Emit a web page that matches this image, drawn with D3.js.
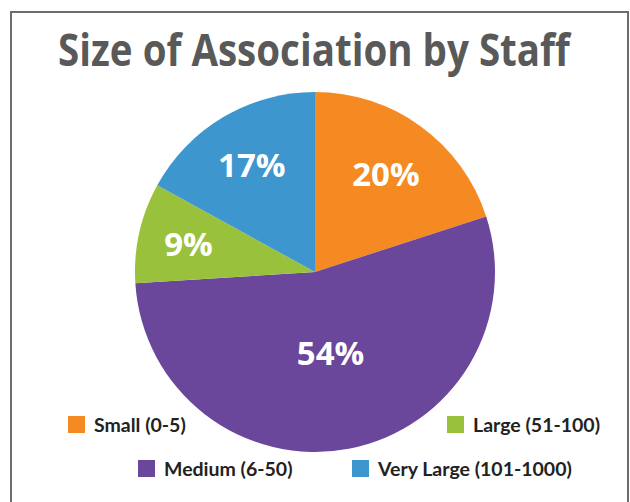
<!DOCTYPE html>
<html>
<head>
<meta charset="utf-8">
<script src="https://cdn.jsdelivr.net/npm/d3@7"></script>
<style>
  body { margin: 0; background: #fff; }
  svg { display: block; }
</style>
</head>
<body>
<div id="chart"></div>
<script>
// data
var categories = ["Small (0-5)", "Medium (6-50)", "Large (51-100)", "Very Large (101-1000)"];
var shares = [20, 54, 9, 17];
var colors = ["#f58a22", "#6b479b", "#9ac13c", "#3d96ce"];

var width = 630, height = 502;
var cx = 315, cy = 272, radius = 180;

// where each percent label sits, as fraction of radius
var labelRadius = [0.67, 0.46, 0.72, 0.69];

// legend layout (swatch top-left)
var legendPos = [
    {x: 68, y: 416},
    {x: 138, y: 460},
    {x: 447, y: 416},
    {x: 352, y: 460}
];

var svg = d3.select("#chart")
    .append("svg")
    .attr("width", width)
    .attr("height", height);

// frame
svg.append("path")
    .attr("d", "M11,502 V12 H628 V502")
    .attr("fill", "none")
    .attr("stroke", "#6d6d6d")
    .attr("stroke-width", 2);

// title is set in a condensed face in the original; squeeze it horizontally
var title = svg.append("text")
    .attr("text-anchor", "middle")
    .attr("font-family", "'Open Sans', sans-serif")
    .attr("font-weight", "bold")
    .attr("font-size", 45)
    .attr("fill", "#595959")
    .text("Size of Association by Staff");
var titleLen = title.node().getComputedTextLength();
title.attr("transform", "translate(314,66) scale(" + (512 / titleLen) + ",1)");

var pie = d3.pie().sort(null).value(function (d) { return d; });
var arcs = pie(shares);

var arc = d3.arc().innerRadius(0).outerRadius(radius);

var g = svg.append("g")
    .attr("transform", "translate(" + cx + "," + cy + ")");

g.selectAll("path.slice")
    .data(arcs)
    .enter()
    .append("path")
    .attr("class", "slice")
    .attr("d", arc)
    .attr("fill", function (d, i) { return colors[i]; });

g.selectAll("text.pct")
    .data(arcs)
    .enter()
    .append("text")
    .attr("class", "pct")
    .attr("transform", function (d, i) {
        var r = radius * labelRadius[i];
        var c = d3.arc().innerRadius(r).outerRadius(r).centroid(d);
        return "translate(" + c[0] + "," + c[1] + ")";
    })
    .attr("dy", "0.36em")
    .attr("text-anchor", "middle")
    .attr("font-family", "'Open Sans', sans-serif")
    .attr("font-weight", "bold")
    .attr("font-size", 33)
    .attr("fill", "#fff")
    .text(function (d) { return d.data + "%"; });

var legend = svg.selectAll("g.legend")
    .data(categories)
    .enter()
    .append("g")
    .attr("class", "legend")
    .attr("transform", function (d, i) {
        return "translate(" + legendPos[i].x + "," + legendPos[i].y + ")";
    });

legend.append("rect")
    .attr("width", 17)
    .attr("height", 17)
    .attr("fill", function (d, i) { return colors[i]; });

legend.append("text")
    .attr("x", 26)
    .attr("y", 16)
    .attr("font-family", "Lato, 'Open Sans', sans-serif")
    .attr("font-weight", "bold")
    .attr("font-size", 19.5)
    .attr("fill", "#222")
    .text(function (d) { return d; });
</script>
</body>
</html>
